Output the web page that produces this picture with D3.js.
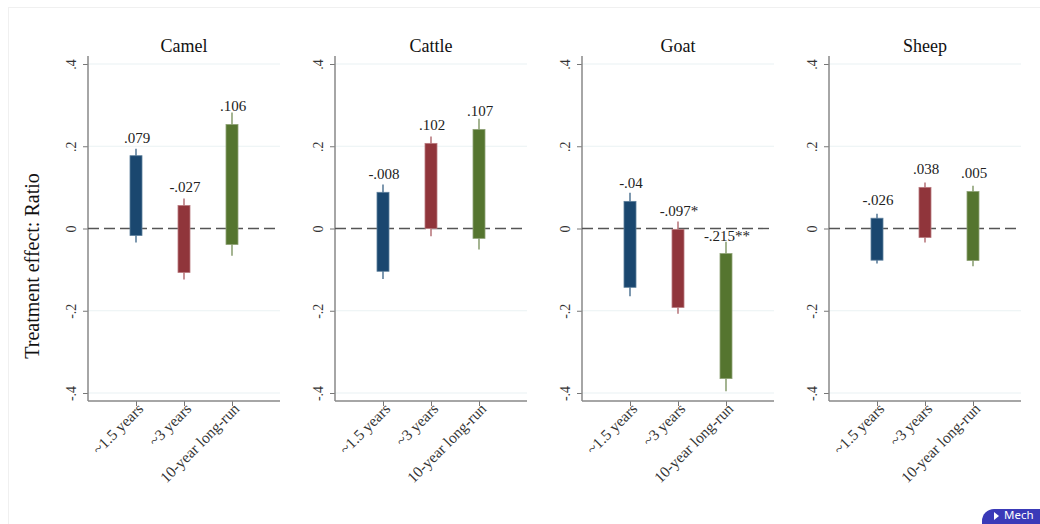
<!DOCTYPE html>
<html>
<head>
<meta charset="utf-8">
<script src="https://cdn.jsdelivr.net/npm/d3@7"></script>
<style>
  body { margin: 0; background: #fff; overflow: hidden; }
  svg { display: block; font-family: "Liberation Serif", "DejaVu Serif", serif; }
</style>
</head>
<body>
<script>
// animals (panels) and horizons (bars)
var panels = ["Camel", "Cattle", "Goat", "Sheep"];
var horizons = ["~1.5 years", "~3 years", "10-year long-run"];
var yTicks = [-0.4, -0.2, 0, 0.2, 0.4];

// point estimates and significance stars
var estimates = [[0.079, -0.027, 0.106], [-0.008, 0.102, 0.107], [-0.04, -0.097, -0.215], [-0.026, 0.038, 0.005]];
var stars = [["", "", ""], ["", "", ""], ["", "*", "**"], ["", "", ""]];

// 90% interval (bar) and 95% interval (whisker)
var ci90Low  = [[-0.017, -0.107, -0.039], [-0.104, 0.0, -0.024], [-0.143, -0.192, -0.365], [-0.077, -0.022, -0.078]];
var ci90High = [[0.177, 0.056, 0.253], [0.088, 0.207, 0.241], [0.066, -0.002, -0.061], [0.025, 0.100, 0.090]];
var ci95Low  = [[-0.034, -0.124, -0.066], [-0.123, -0.019, -0.051], [-0.165, -0.207, -0.396], [-0.085, -0.034, -0.092]];
var ci95High = [[0.194, 0.073, 0.282], [0.107, 0.224, 0.267], [0.087, 0.017, -0.032], [0.036, 0.112, 0.104]];

var colors = ["#1a476f", "#90353b", "#55752f"];
var whiskerColors = ["#5d7f9c", "#b97a7f", "#8ea276"];

var W = 1040, H = 524;
var panelLeft = 88, panelStep = 247, plotW = 192;

var svg = d3.select("body").append("svg")
    .attr("width", W)
    .attr("height", H);

// page frame
svg.append("rect")
    .attr("x", 8.5).attr("y", 7.5)
    .attr("width", W).attr("height", H)
    .attr("fill", "#fff")
    .attr("stroke", "#f0f0f0");

var y = d3.scaleLinear().domain([-0.4, 0.4]).range([393, 64]);
var x = d3.scaleLinear().domain([0, 4]).range([0, plotW]);

var fmt = function (v) { return String(v).replace("0.", "."); };

panels.forEach(function (name, p) {
    var g = svg.append("g")
        .attr("transform", "translate(" + (panelLeft + p * panelStep) + ",0)");

    // gridlines
    g.selectAll(".grid")
        .data(yTicks.filter(function (t) { return t !== 0; }))
        .enter().append("line")
        .attr("x1", 0).attr("x2", plotW)
        .attr("y1", function (d) { return y(d); })
        .attr("y2", function (d) { return y(d); })
        .attr("stroke", "#eaf2f3")
        .attr("stroke-width", 1.2);

    // y axis
    var yAxis = d3.axisLeft(y).tickValues(yTicks).tickSize(5).tickPadding(4)
        .tickFormat(function (d) { return d === 0 ? "0" : fmt(d); });
    var ya = g.append("g").call(yAxis);
    ya.select(".domain").remove();
    ya.selectAll(".tick line").attr("stroke", "#777");
    ya.selectAll(".tick text")
        .attr("transform", "rotate(-90)")
        .attr("x", 0).attr("y", -12)
        .attr("dy", "0")
        .style("text-anchor", "middle")
        .style("font-size", "14px")
        .style("font-family", "Liberation Serif")
        .attr("fill", "#333");

    g.append("line")
        .attr("x1", 0).attr("x2", 0)
        .attr("y1", y(0.4) - 8).attr("y2", y(-0.4) + 8)
        .attr("stroke", "#888").attr("stroke-width", 1.5);

    // x axis
    var xa = g.append("g")
        .attr("transform", "translate(0," + (y(-0.4) + 8) + ")")
        .call(d3.axisBottom(x).tickValues([1, 2, 3]).tickSize(5)
            .tickFormat(function (d) { return horizons[d - 1]; }));
    xa.select(".domain").remove();
    xa.selectAll(".tick line").attr("stroke", "#777");
    xa.selectAll(".tick text")
        .attr("transform", "translate(4,5) rotate(-45)")
        .attr("x", 0).attr("y", 0).attr("dy", "0.35em")
        .style("text-anchor", "end")
        .style("font-size", "15.5px")
        .style("font-family", "Liberation Serif")
        .attr("fill", "#333");

    g.append("line")
        .attr("x1", 0).attr("x2", plotW)
        .attr("y1", y(-0.4) + 8).attr("y2", y(-0.4) + 8)
        .attr("stroke", "#888").attr("stroke-width", 1.5);

    // zero reference
    g.append("line")
        .attr("x1", 0).attr("x2", plotW)
        .attr("y1", y(0)).attr("y2", y(0))
        .attr("stroke", "#555").attr("stroke-width", 1.4)
        .attr("stroke-dasharray", "11,5");

    // title
    g.append("text")
        .attr("x", plotW / 2).attr("y", 52)
        .attr("text-anchor", "middle")
        .style("font-size", "18px")
        .attr("fill", "#111")
        .text(name);

    var rows = horizons.map(function (h, i) {
        return { i: i, est: estimates[p][i], star: stars[p][i],
                 lo90: ci90Low[p][i], hi90: ci90High[p][i],
                 lo95: ci95Low[p][i], hi95: ci95High[p][i] };
    });

    g.selectAll(".whisker")
        .data(rows)
        .enter().append("line")
        .attr("x1", function (d) { return x(d.i + 1); })
        .attr("x2", function (d) { return x(d.i + 1); })
        .attr("y1", function (d) { return y(d.hi95); })
        .attr("y2", function (d) { return y(d.lo95); })
        .attr("stroke", function (d) { return whiskerColors[d.i]; })
        .attr("stroke-width", 1.6);

    g.selectAll(".bar")
        .data(rows)
        .enter().append("rect")
        .attr("x", function (d) { return x(d.i + 1) - 6; })
        .attr("width", 12)
        .attr("y", function (d) { return y(d.hi90); })
        .attr("height", function (d) { return y(d.lo90) - y(d.hi90); })
        .attr("fill", function (d) { return colors[d.i]; })
        .attr("stroke", function (d) { return whiskerColors[d.i]; })
        .attr("stroke-width", 0.8);

    g.selectAll(".lab")
        .data(rows)
        .enter().append("text")
        .attr("x", function (d) { return x(d.i + 1) + 1; })
        .attr("y", function (d) { return y(d.hi90) - 13; })
        .attr("text-anchor", "middle")
        .style("font-size", "15px")
        .attr("fill", "#222")
        .text(function (d) { return fmt(d.est) + d.star; });
});

// y axis title
svg.append("text")
    .attr("transform", "translate(39,266) rotate(-90)")
    .attr("text-anchor", "middle")
    .style("font-size", "20px")
    .attr("fill", "#111")
    .text("Treatment effect: Ratio");

// cut-off button at the page corner
svg.append("rect")
    .attr("x", 982).attr("y", 509)
    .attr("width", 90).attr("height", 30)
    .attr("rx", 12)
    .attr("fill", "#3a3ab8");
svg.append("path")
    .attr("d", "M994,512 L999,516 L994,520 Z")
    .attr("fill", "#fff");
svg.append("text")
    .attr("x", 1004).attr("y", 519)
    .style("font-family", "Noto Sans, sans-serif")
    .style("font-size", "11.5px")
    .attr("fill", "#fff")
    .text("Mech");
</script>
</body>
</html>
